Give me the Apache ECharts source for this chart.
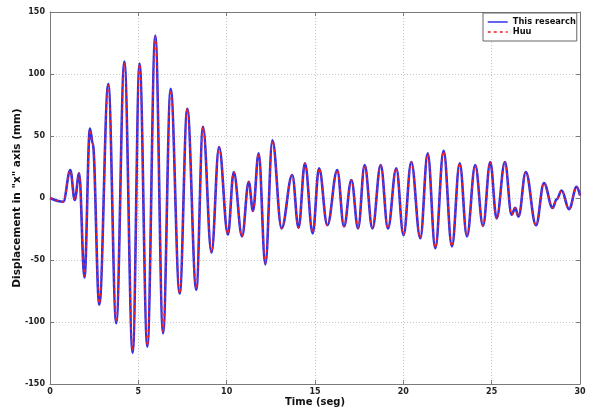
<!DOCTYPE html>
<html>
<head>
<meta charset="utf-8">
<script src="https://cdn.jsdelivr.net/npm/echarts@6/dist/echarts.min.js"></script>
<style>
html,body{margin:0;padding:0;background:#fff;}
#c{width:593px;height:412px;}
</style>
</head>
<body>
<div id="c"></div>
<script>
// Time samples (s) at the read extrema / shape points
var time = [0, 0.75, 1.15, 1.40, 1.65, 1.95, 2.26, 2.42, 2.79, 3.30, 3.75, 4.21, 4.68, 5.07, 5.51, 5.96, 6.40, 6.83, 7.34, 7.77, 8.28, 8.66, 9.14, 9.57, 10.07, 10.40, 10.87, 11.25, 11.49, 11.81, 12.19, 12.59, 13.11, 13.71, 14.07, 14.43, 14.87, 15.23, 15.70, 16.26, 16.64, 17.06, 17.44, 17.81, 18.25, 18.72, 19.13, 19.60, 20.01, 20.45, 20.96, 21.38, 21.81, 22.28, 22.75, 23.19, 23.60, 24.07, 24.51, 24.92, 25.28, 25.75, 26.13, 26.33, 26.52, 26.93, 27.51, 27.96, 28.45, 28.68, 28.96, 29.38, 29.81, 30];
// Displacement (mm), "This research"
var research = [0, -3, 22.5, -1.5, 20, -64, 56, 44, -86, 92, -101, 110, -125, 108.5, -120, 131, -109, 88, -77, 72, -74, 57.5, -44, 41, -29.5, 21, -31, 13, -10.5, 36, -53.5, 46.5, -24.5, 18.5, -24, 28, -28.5, 24, -22, 22.5, -23, 14.5, -24.5, 26.5, -24.5, 26.5, -24.5, 24, -30, 29, -32.5, 36, -40.5, 38, -39, 28, -31, 26.5, -22.5, 29, -16.5, 29, -13.5, -8, -15, 21, -22, 12, -8, -1, 6, -9, 9, 2];
// Displacement (mm), "Huu"
var huu = [0, -3, 22, -1.5, 20, -63, 55, 44, -85, 91, -100, 109, -123, 108, -119, 130, -108, 87, -77, 72, -73, 57, -44, 41, -29, 21, -31, 13, -10.5, 36, -52.5, 46, -24.5, 18.5, -24, 28, -28, 24, -22, 22.5, -23, 14.5, -24, 26.5, -24.5, 26, -24.5, 24, -29.5, 29, -32, 35.5, -40, 37.5, -39, 28, -31, 26.5, -22.5, 29, -16.5, 29, -13.5, -8, -15, 21, -22, 12, -8, -1, 6, -9, 9, 2];
var xTicks = [0, 5, 10, 15, 20, 25, 30];
var yTicks = [-150, -100, -50, 0, 50, 100, 150];

function pairs(xs, ys) { return xs.map(function (x, i) { return [x, ys[i]]; }); }

var FONT = 'DejaVu Sans';
var chart = echarts.init(document.getElementById('c'));
var axisLine = { show: true, onZero: false, lineStyle: { color: '#7a7a7a', width: 1 } };
var tickIn = { show: true, inside: true, length: 4, lineStyle: { color: '#7a7a7a' } };
var split = { show: true, lineStyle: { color: '#c8c8c8', type: [1, 2], width: 1 } };
var lbl = { fontFamily: FONT, fontWeight: 'bold', fontSize: 8, color: '#222' };

chart.setOption({
  animation: false,
  backgroundColor: '#fff',
  grid: { left: 50, right: 13, top: 12, bottom: 28, containLabel: false, outerBoundsMode: 'none' },
  legend: {
    left: 483, top: 13, orient: 'vertical',
    backgroundColor: '#fff', borderColor: '#666', borderWidth: 1, borderRadius: 0,
    padding: [5, 1, 5, 4], itemWidth: 20, itemHeight: 8, itemGap: 2,
    itemStyle: { opacity: 0 }, lineStyle: { width: 1.5 },
    textStyle: { fontFamily: FONT, fontWeight: 'bold', fontSize: 8.3, color: '#111' },
    data: ['This research', 'Huu']
  },
  xAxis: [{
    type: 'value', min: xTicks[0], max: xTicks[xTicks.length - 1], interval: 5,
    name: 'Time (seg)', nameLocation: 'middle', nameGap: 13, nameMoveOverlap: false,
    nameTextStyle: { fontFamily: FONT, fontWeight: 'bold', fontSize: 10, color: '#111' },
    axisLine: axisLine, axisTick: tickIn, splitLine: split,
    axisLabel: Object.assign({ margin: 4 }, lbl)
  }, {
    type: 'value', position: 'top', min: 0, max: 30, interval: 5,
    axisLine: axisLine, axisTick: tickIn, splitLine: { show: false }, axisLabel: { show: false }
  }],
  yAxis: [{
    type: 'value', min: yTicks[0], max: yTicks[yTicks.length - 1], interval: 50,
    name: 'Displacement in "x" axis (mm)', nameLocation: 'middle', nameGap: 27, nameRotate: 90, nameMoveOverlap: false,
    nameTextStyle: { fontFamily: FONT, fontWeight: 'bold', fontSize: 10.5, color: '#111' },
    axisLine: axisLine, axisTick: tickIn, splitLine: split,
    axisLabel: Object.assign({ margin: 5 }, lbl)
  }, {
    type: 'value', position: 'right', min: -150, max: 150, interval: 50,
    axisLine: axisLine, axisTick: tickIn, splitLine: { show: false }, axisLabel: { show: false }
  }],
  series: [{
    name: 'This research', type: 'line', data: pairs(time, research),
    symbol: 'none', smooth: 0.38, smoothMonotone: 'x',
    lineStyle: { color: '#3030e8', width: 2.6 }, itemStyle: { color: '#3030e8' }, z: 2
  }, {
    name: 'Huu', type: 'line', data: pairs(time, huu),
    symbol: 'none', smooth: 0.38, smoothMonotone: 'x',
    lineStyle: { color: '#e8202a', width: 1.6, type: [3, 3] }, itemStyle: { color: '#e8202a' }, z: 3
  }]
});
</script>
</body>
</html>
